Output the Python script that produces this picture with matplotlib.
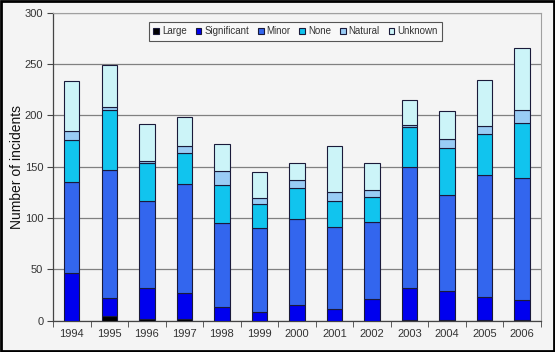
import matplotlib
matplotlib.use("Agg")
import matplotlib.pyplot as plt
import numpy as np
from matplotlib.patches import Rectangle

plt.rcParams['font.family'] = ['Liberation Sans', 'DejaVu Sans']

years = ['1994', '1995', '1996', '1997', '1998', '1999', '2000',
         '2001', '2002', '2003', '2004', '2005', '2006']
series_names = ['Large', 'Significant', 'Minor', 'None', 'Natural', 'Unknown']

# cumulative tops, converted to per-series values
large       = [0, 5, 2, 2, 0, 0, 0, 0, 0, 1, 1, 1, 1]
significant = [46, 17, 30, 25, 13, 8, 15, 11, 21, 31, 28, 22, 19]
minor       = [89, 125, 85, 106, 82, 82, 84, 80, 75, 118, 93, 119, 119]
none_       = [41, 58, 37, 30, 37, 24, 30, 26, 24, 39, 46, 40, 54]
natural     = [9, 3, 2, 7, 14, 5, 8, 8, 7, 2, 9, 8, 12]
unknown     = [48, 41, 36, 28, 26, 26, 17, 45, 27, 24, 27, 44, 61]

colors = ['#000000', '#0000EE', '#3366EE', '#11C4EE', '#99CCF5', '#CCF4F8']

fig = plt.figure(figsize=(5.55, 3.52), dpi=100, facecolor='#F4F4F4')
ax = fig.add_axes([0.0955, 0.089, 0.879, 0.875])
ax.set_facecolor('#F4F4F4')

x = np.arange(len(years))
data = [large, significant, minor, none_, natural, unknown]
bottom = np.zeros(len(years))
for name, vals, c in zip(series_names, data, colors):
    v = np.array(vals, dtype=float)
    ax.bar(x, v, bottom=bottom, width=0.41, color=c, edgecolor='#1A1A3A',
           linewidth=0.8, label=name, zorder=3)
    bottom += v

ax.set_xlim(-0.5, len(years) - 0.5)
ax.set_ylim(0, 300)
ax.set_yticks(np.arange(0, 301, 50))
ax.yaxis.grid(True, color='#808080', linewidth=0.9, zorder=0)
ax.set_axisbelow(True)

ax.set_xticks(x)
ax.set_xticklabels(years)
ax.tick_params(axis='x', which='major', length=0, pad=6, labelsize=8, labelcolor='#333333')
ax.set_xticks(np.arange(-0.5, len(years), 1.0), minor=True)
ax.tick_params(axis='x', which='minor', length=4, direction='out', color='#444444')
ax.tick_params(axis='y', length=4, direction='out', color='#444444', labelsize=8,
               labelcolor='#333333', pad=3)

for s in ['top', 'right']:
    ax.spines[s].set_color('#A0A0A0')
    ax.spines[s].set_linewidth(0.8)
for s in ['left', 'bottom']:
    ax.spines[s].set_color('#444444')
    ax.spines[s].set_linewidth(0.9)

ax.set_ylabel('Number of incidents', fontsize=10, color='#111111')
ax.yaxis.set_label_coords(-0.06, 0.5)

leg = ax.legend(loc='center', bbox_to_anchor=(0.497, 0.94), ncol=6, fontsize=7,
                frameon=True, fancybox=False, edgecolor='#555555', facecolor='#F8F8F8',
                handlelength=0.6, handleheight=0.6, handletextpad=0.3,
                columnspacing=0.9, borderpad=0.45, framealpha=1)
leg.get_frame().set_linewidth(0.8)
for t in leg.get_texts():
    t.set_color('#333333')

fig.patches.append(Rectangle((0.002, 0.003), 0.996, 0.994, transform=fig.transFigure,
                             fill=False, edgecolor='black', linewidth=2.0))

fig.savefig('out.png', dpi=100, facecolor=fig.get_facecolor())
